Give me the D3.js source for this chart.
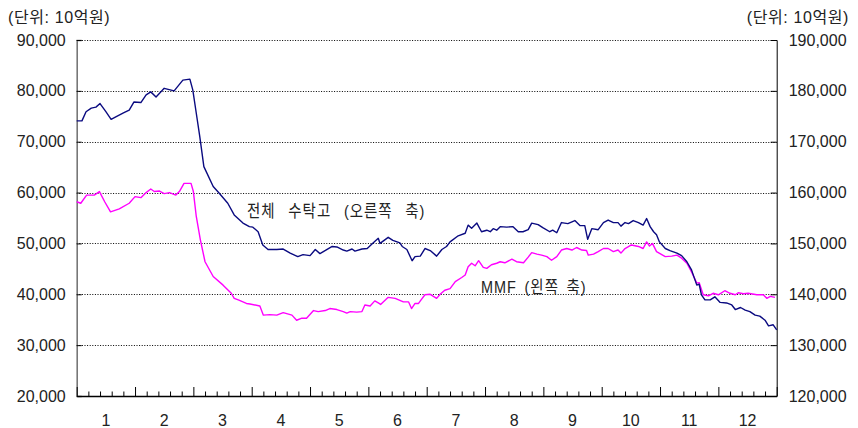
<!DOCTYPE html>
<html>
<head>
<meta charset="utf-8">
<script src="https://cdn.jsdelivr.net/npm/d3@7"></script>
<style>
  body { margin: 0; background: #fff; }
  text { font-family: "Liberation Sans", Arial, "Noto Sans CJK KR", sans-serif; fill: #222; }
</style>
</head>
<body>
<div id="chart"></div>
<script>
// months on the x axis (labels centred in each month)
const months = ["1","2","3","4","5","6","7","8","9","10","11","12"];
const leftTicks = [20000,30000,40000,50000,60000,70000,80000,90000];
const rightTicks = [120000,130000,140000,150000,160000,170000,180000,190000];

// 전체 수탁고 (right axis) : [month position, 10억원]
const total = [[0.00,174100],[0.09,174100],[0.16,175900],[0.25,176600],[0.33,176800],[0.40,177500],[0.50,175900],[0.59,174400],[0.67,174900],[0.81,175700],[0.90,176200],[0.98,177800],[1.10,177700],[1.19,179200],[1.27,179800],[1.36,178800],[1.50,180500],[1.67,180000],[1.82,182100],[1.94,182300],[1.99,180200],[2.05,175600],[2.11,171000],[2.18,165100],[2.34,161200],[2.44,159900],[2.59,157900],[2.70,155600],[2.85,154000],[2.96,153300],[3.02,153200],[3.11,152300],[3.19,149700],[3.28,148800],[3.43,148800],[3.54,148900],[3.66,148100],[3.79,147400],[3.88,147800],[4.00,147600],[4.09,148800],[4.17,148000],[4.38,149400],[4.46,149300],[4.57,148700],[4.63,148500],[4.72,148900],[4.77,148500],[4.89,148900],[4.98,149000],[5.08,150100],[5.17,151000],[5.20,150000],[5.34,151200],[5.42,150600],[5.54,150100],[5.58,149400],[5.66,148800],[5.75,146600],[5.80,147400],[5.89,147500],[5.97,149000],[6.06,148600],[6.17,147500],[6.26,148800],[6.34,149400],[6.40,150300],[6.54,151500],[6.66,152000],[6.71,153600],[6.77,153000],[6.86,154000],[6.94,152300],[7.03,152600],[7.09,152300],[7.14,152900],[7.20,152600],[7.26,153300],[7.37,153200],[7.48,153300],[7.57,152300],[7.65,152300],[7.74,152700],[7.80,154000],[7.91,153700],[7.99,153100],[8.11,152300],[8.16,152600],[8.23,152100],[8.31,154100],[8.42,153900],[8.54,154500],[8.63,153500],[8.71,153500],[8.76,150800],[8.83,152900],[8.94,152700],[9.03,154100],[9.11,154600],[9.20,154100],[9.28,154100],[9.33,153400],[9.40,154100],[9.46,153900],[9.54,154500],[9.63,154100],[9.71,153600],[9.77,154900],[9.83,153300],[9.89,152300],[9.94,151700],[9.99,150300],[10.09,149000],[10.17,148600],[10.29,148100],[10.37,147600],[10.46,146400],[10.54,144800],[10.63,141800],[10.67,142000],[10.71,139900],[10.77,138900],[10.86,138900],[10.94,139500],[11.03,138400],[11.14,138300],[11.23,137900],[11.29,137000],[11.38,137400],[11.46,136900],[11.54,136600],[11.63,135900],[11.71,135700],[11.80,134900],[11.86,133800],[11.94,134000],[12.00,133000]];

// MMF (left axis) : [month position, 10억원]
const mmf = [[0.00,58200],[0.07,57900],[0.17,59500],[0.30,59500],[0.39,60200],[0.48,58200],[0.58,56200],[0.73,56800],[0.90,57900],[1.00,59200],[1.10,59000],[1.19,60000],[1.27,60700],[1.33,60200],[1.42,60300],[1.50,59800],[1.59,60000],[1.70,59500],[1.76,60200],[1.84,61800],[1.96,61800],[2.00,60200],[2.05,55300],[2.12,50700],[2.20,46400],[2.34,43500],[2.51,41800],[2.65,40200],[2.70,39200],[2.77,38900],[2.91,38200],[2.97,38100],[3.14,37700],[3.20,35900],[3.31,36000],[3.43,35900],[3.54,36400],[3.69,35900],[3.77,34900],[3.86,35300],[3.94,35300],[4.06,36800],[4.14,36600],[4.26,36800],[4.34,37200],[4.46,37000],[4.57,36600],[4.63,36300],[4.69,36600],[4.80,36500],[4.89,36600],[4.94,37900],[5.03,37700],[5.11,38700],[5.17,38300],[5.21,38000],[5.34,39400],[5.46,39200],[5.60,38500],[5.69,38500],[5.74,37200],[5.80,38200],[5.86,38200],[5.91,39000],[5.97,39900],[6.06,40000],[6.17,39200],[6.23,40000],[6.31,40800],[6.40,41100],[6.49,42500],[6.60,43300],[6.66,43800],[6.71,45400],[6.77,46100],[6.83,45600],[6.89,46600],[6.97,45300],[7.03,45100],[7.11,45800],[7.20,46100],[7.26,46400],[7.34,46200],[7.46,46900],[7.54,46400],[7.66,46200],[7.74,47300],[7.80,48200],[7.89,47900],[7.97,47700],[8.06,47400],[8.14,46700],[8.23,47400],[8.31,48700],[8.40,49000],[8.49,48700],[8.57,49200],[8.66,48700],[8.74,48600],[8.77,47700],[8.86,47900],[8.94,48400],[9.03,49000],[9.11,49000],[9.20,48400],[9.28,48700],[9.33,48100],[9.40,49000],[9.51,49700],[9.63,49400],[9.71,49000],[9.77,50300],[9.82,49500],[9.87,50000],[9.94,48400],[10.00,48000],[10.09,47400],[10.20,47500],[10.29,47700],[10.37,47100],[10.46,46100],[10.54,44400],[10.63,42200],[10.67,42300],[10.74,39900],[10.83,39700],[10.91,40200],[11.00,39900],[11.11,40700],[11.20,40200],[11.29,39900],[11.34,40300],[11.43,40100],[11.51,40200],[11.66,39900],[11.77,39900],[11.83,39200],[11.89,39600],[11.97,39400]];

const width = 858, height = 428;
const margin = {top: 40, right: 81.3, bottom: 32, left: 76.7};

const svg = d3.select("#chart").append("svg")
  .attr("width", width)
  .attr("height", height)
  .style("display", "block");

const x = d3.scaleLinear().domain([0, 12]).range([margin.left, width - margin.right]);
const yL = d3.scaleLinear().domain([20000, 90000]).range([height - margin.bottom, margin.top]);
const yR = d3.scaleLinear().domain([120000, 190000]).range([height - margin.bottom, margin.top]);

const fmt = d3.format(",");

// dotted grid
svg.append("g")
  .selectAll("line")
  .data(leftTicks.slice(1))
  .join("line")
  .attr("x1", x(0)).attr("x2", x(12))
  .attr("y1", d => Math.round(yL(d)) + 0.5).attr("y2", d => Math.round(yL(d)) + 0.5)
  .attr("stroke", "#000")
  .attr("stroke-width", 1)
  .attr("stroke-dasharray", "1,1.6");

// left axis
const gl = svg.append("g")
  .attr("transform", `translate(${x(0)},0)`)
  .call(d3.axisLeft(yL).tickValues(leftTicks).tickFormat(fmt).tickSize(-5).tickPadding(11));
gl.select(".domain").attr("stroke", "#777").attr("stroke-width", 1.6);
gl.selectAll(".tick line").attr("stroke", "#000");
gl.selectAll("text").attr("font-size", 16).style("font-family", "'Liberation Sans', Arial, sans-serif").attr("fill", "#222");

// right axis
const gr = svg.append("g")
  .attr("transform", `translate(${x(12)},0)`)
  .call(d3.axisRight(yR).tickValues(rightTicks).tickFormat(fmt).tickSize(-6).tickPadding(12));
gr.select(".domain").attr("stroke", "#000");
gr.selectAll(".tick line").attr("stroke", "#000");
gr.selectAll("text").attr("font-size", 16).style("font-family", "'Liberation Sans', Arial, sans-serif").attr("fill", "#222");

// bottom axis: month ticks (major) and weekly ticks (minor)
const gb = svg.append("g")
  .attr("transform", `translate(0,${height - margin.bottom})`);
gb.call(d3.axisBottom(x).tickValues(d3.range(0, 12.01, 0.2)).tickFormat("").tickSize(-4.5).tickSizeOuter(0));
gb.select(".domain").attr("stroke", "#000").attr("stroke-width", 1.3);
gb.selectAll(".tick line")
  .attr("stroke", "#000")
  .attr("y2", d => Math.abs(d - Math.round(d)) < 1e-6 ? -9 : -4.5);

svg.append("g")
  .selectAll("text")
  .data(months)
  .join("text")
  .attr("x", (d, i) => x(i + 0.5))
  .attr("y", 426)
  .attr("text-anchor", "middle")
  .attr("font-size", 16)
  .text(d => d);

// lines
const lineL = d3.line().x(d => x(d[0])).y(d => yL(d[1]));
const lineR = d3.line().x(d => x(d[0])).y(d => yR(d[1]));

svg.append("path")
  .datum(mmf)
  .attr("fill", "none")
  .attr("stroke", "#ff00ff")
  .attr("stroke-width", 1.4)
  .attr("stroke-linejoin", "round")
  .attr("d", lineL);

svg.append("path")
  .datum(total)
  .attr("fill", "none")
  .attr("stroke", "#0a0a80")
  .attr("stroke-width", 1.4)
  .attr("stroke-linejoin", "round")
  .attr("d", lineR);

// unit labels
svg.append("text")
  .attr("x", 8).attr("y", 23)
  .attr("font-size", 16)
  .attr("letter-spacing", 0.6)
  .text("(단위: 10억원)");
svg.append("text")
  .attr("x", 849).attr("y", 23)
  .attr("text-anchor", "end")
  .attr("font-size", 16)
  .attr("letter-spacing", 0.6)
  .text("(단위: 10억원)");

// series labels (slightly narrow lettering as in the original)
svg.append("text")
  .attr("transform", "translate(247,217) scale(0.85,1)")
  .attr("font-size", 17)
  .attr("fill", "#333")
  .attr("letter-spacing", 1.2)
  .attr("word-spacing", 9)
  .text("전체 수탁고 (오른쪽 축)");
svg.append("text")
  .attr("transform", "translate(481,293) scale(0.85,1)")
  .attr("font-size", 17)
  .attr("fill", "#333")
  .attr("letter-spacing", 1.2)
  .attr("word-spacing", 3)
  .text("MMF (왼쪽 축)");
</script>
</body>
</html>
